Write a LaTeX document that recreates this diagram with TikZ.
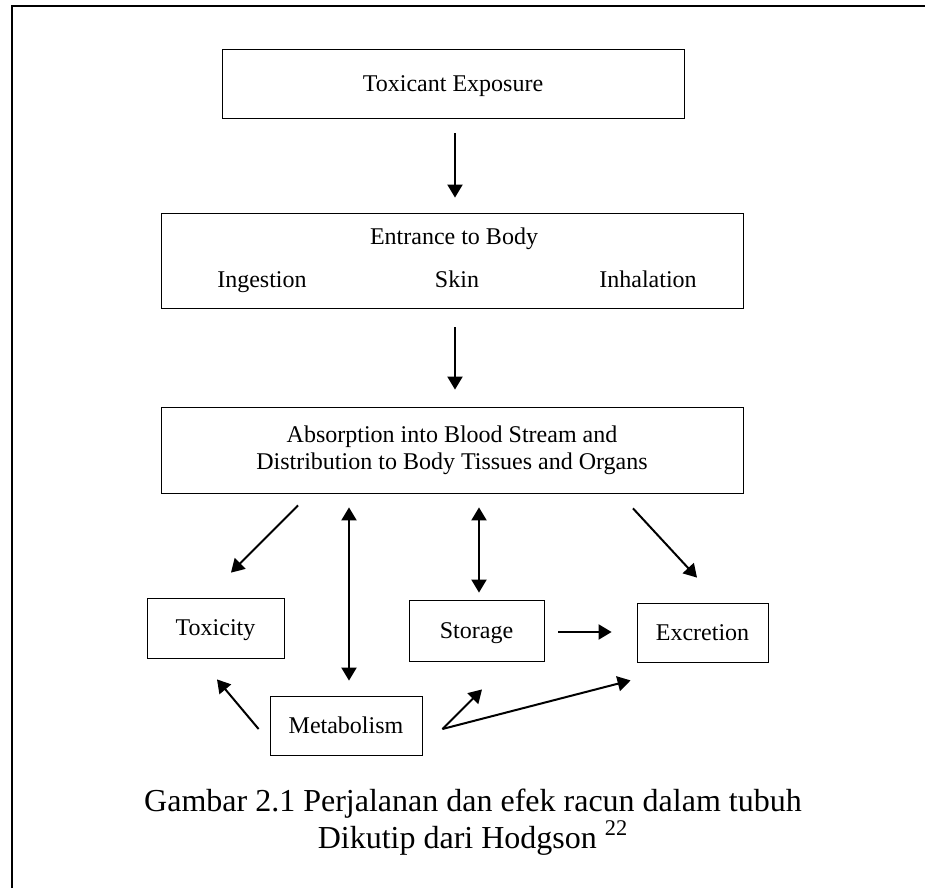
\documentclass[tikz,border=0pt]{standalone}
\usepackage{fontspec}
\setmainfont{Liberation Serif}
\usepackage{xcolor}
\usepackage{tikz}
\usetikzlibrary{calc, arrows.meta}
\tikzset{
	line width = 1pt,
	>={Triangle[length=6.5pt, width=7.5pt]},
	font = \fontsize{12}{13.5}\selectfont,
	box/.style={
		draw,
		inner sep=0pt,
		align=center
	},
	oneline/.style={
		text height=9.5pt,
		text depth=2pt
	},
	label/.style={
		inner sep=0pt
	},
	arr/.style={
		->,
		line width=1pt
	},
	dbl/.style={
		<->,
		line width=1pt
	},
	frame/.style={
		line width=1.3pt
	}
}

\begin{document}
\begin{tikzpicture}[x=0.5pt, y=-0.5pt]
		\useasboundingbox (0,0) rectangle (925,888);
\draw[frame] (12,888) -- (12,6) -- (925,6);
% ---
% main column
% ---
\node[box, oneline, minimum width=231pt, minimum height=34.5pt] at (453,83.5) (expo) {Toxicant Exposure};

\node[box, minimum width=291pt, minimum height=47.5pt] at (452,260.5) (entry) {};
\node[label, oneline] at (454,237) (entry-t) {Entrance to Body};
\node[label, oneline] at (262,280) (ingest) {Ingestion};
\node[label, oneline] at (457,280) (skin) {Skin};
\node[label, oneline] at (648,280) (inhal) {Inhalation};

\node[box, minimum width=291pt, minimum height=43pt] at (452,450) (absorb) {Absorption into Blood Stream and\\Distribution to Body Tissues and Organs};

% ---
% fates
% ---
\node[box, oneline, minimum width=68.5pt, minimum height=30pt] at (215.5,628) (toxic) {Toxicity};
\node[box, oneline, minimum width=67.5pt, minimum height=30.5pt] at (476.5,630.5) (store) {Storage};
\node[box, oneline, minimum width=65.5pt, minimum height=29.5pt] at (702.5,632.5) (excr) {Excretion};
\node[box, oneline, minimum width=76pt, minimum height=29.5pt] at (346,725.5) (metab) {Metabolism};

\draw[arr] ($(expo.south)+(2,15)$) -- ($(entry.north)+(3,-15)$);
\draw[arr] ($(entry.south)+(3,19)$) -- ($(absorb.north)+(3,-17)$);
\draw[arr] ($(absorb.south)+(-154,12)$) -- ($(toxic.north)+(15.5,-25)$);
\draw[dbl] ($(absorb.south)+(-103,14)$) -- ($(metab.north)+(3,-15)$);
\draw[dbl] ($(absorb.south)+(27,14)$) -- ($(store.north)+(2.5,-7)$);
\draw[arr] ($(absorb.south)+(181,15)$) -- ($(excr.north)+(-5.5,-25)$);
\draw[arr] ($(store.east)+(14,1.5)$) -- ($(excr.west)+(-25,-0.5)$);

\coordinate (fork) at ($(metab.east)+(20,3.5)$);
\draw[arr] ($(metab.west)+(-11,3.5)$) -- ($(toxic.south)+(1.5,21)$);
\draw[arr] (fork) -- ($(store.south)+(5.5,28)$);
\draw[arr] (fork) -- ($(excr.south west)+(-6,18)$);

% ---
% caption
% ---
\node[label, align=center, font=\fontsize{16}{18.5}\selectfont] at (473,822) (caption) {Gambar 2.1 Perjalanan dan efek racun dalam tubuh\\Dikutip dari Hodgson \textsuperscript{22}};
	\end{tikzpicture}
\end{document}
